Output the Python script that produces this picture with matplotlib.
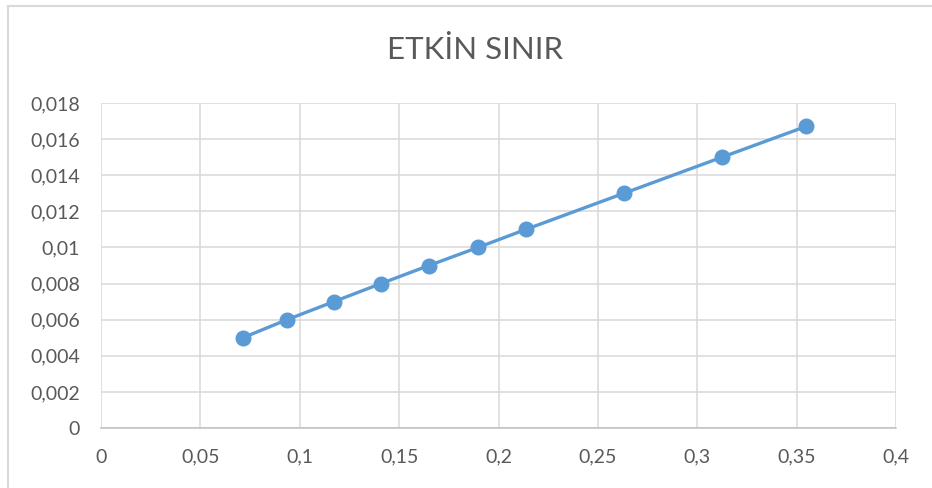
import matplotlib
matplotlib.use("Agg")
import matplotlib.pyplot as plt
from matplotlib.ticker import FuncFormatter, MultipleLocator
from matplotlib.lines import Line2D

x_vals = [0.0714, 0.0936, 0.1172, 0.1409, 0.1650, 0.1897, 0.2138, 0.2631, 0.3125, 0.3547]
y_vals = [0.005, 0.006, 0.007, 0.008, 0.009, 0.010, 0.011, 0.013, 0.015, 0.0167]
title = "ETKİN SINIR"

plt.rcParams['font.family'] = ['Lato', 'DejaVu Sans']

fig = plt.figure(figsize=(9.32, 4.88), dpi=100)
# chart frame (left and top edges visible)
fig.lines.append(Line2D([8/932, 8/932], [0, 1 - 6/488], transform=fig.transFigure,
                        color='#D9D9D9', linewidth=1.5))
fig.lines.append(Line2D([8/932, 1], [1 - 6/488, 1 - 6/488], transform=fig.transFigure,
                        color='#D9D9D9', linewidth=1.5))
ax = fig.add_axes([101/932, 1 - 428/488, 795/932, 325/488])

ax.plot(x_vals, y_vals, color='#5B9BD5', linewidth=2.4, marker='o', markersize=10.5,
        markerfacecolor='#5B9BD5', markeredgecolor='#5B9BD5', zorder=3)

ax.set_xlim(0, 0.4)
ax.set_ylim(0, 0.018)
ax.xaxis.set_major_locator(MultipleLocator(0.05))
ax.yaxis.set_major_locator(MultipleLocator(0.002))

def fmt(v, pos):
    if abs(v) < 1e-12:
        return "0"
    s = ("%.3f" % v).rstrip('0').rstrip('.')
    return s.replace('.', ',')

ax.xaxis.set_major_formatter(FuncFormatter(fmt))
ax.yaxis.set_major_formatter(FuncFormatter(fmt))

ax.grid(True, color='#D9D9D9', linewidth=1.1)
ax.set_axisbelow(True)
for s in ['top', 'right', 'left']:
    ax.spines[s].set_visible(False)
ax.spines['bottom'].set_color('#BFBFBF')
ax.spines['bottom'].set_linewidth(1.1)
ax.tick_params(axis='both', length=0, labelsize=14, colors='#595959')
ax.tick_params(axis='x', pad=15)
ax.tick_params(axis='y', pad=15)

fig.text(475.5/932, 1 - 50/488, title, ha='center', va='center', fontsize=22.5, color='#595959')

fig.savefig("out.png", dpi=100)
